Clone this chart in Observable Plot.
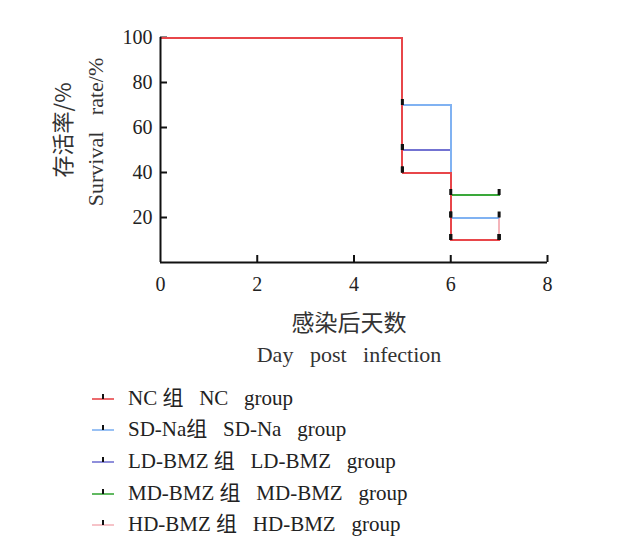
<!DOCTYPE html>
<html>
<head>
<meta charset="utf-8">
<script src="https://cdn.jsdelivr.net/npm/d3@7"></script>
<script src="https://cdn.jsdelivr.net/npm/@observablehq/plot@0.6"></script>
<style>
  html, body { margin: 0; padding: 0; background: #fff; }
  #wrap { width: 642px; }
  #legend { margin: 5px 0 0 92px; font-family: "Liberation Serif", "Noto Sans CJK SC", serif; font-size: 21px; color: #222; }
  .item { height: 31.6px; display: flex; align-items: center; white-space: pre; }
  .item svg { margin-right: 14px; }
</style>
</head>
<body>
<div id="wrap"></div>
<script>
// ---- data ----
const days = [0, 5, 6, 7];
const ncGroup   = [100, 40, 10, 10];
const sdNaGroup = [100, 70, 20, 20];
const ldBmzGroup = [100, 50, 10, 10];
const mdBmzGroup = [100, 50, 30, 30];
const hdBmzGroup = [100, 40, 20, 10];
const groupNames = ["HD-BMZ", "MD-BMZ", "LD-BMZ", "SD-Na", "NC"]; // draw order (NC on top)
const groupColors = {"NC": "#e8464a", "SD-Na": "#80b2f2", "LD-BMZ": "#7373d2", "MD-BMZ": "#3aa83a", "HD-BMZ": "#f4b4ba"};
const legendLabels = [
  ["NC", "NC 组\u2002 NC\u2002 group"],
  ["SD-Na", "SD-Na组\u2002 SD-Na\u2002 group"],
  ["LD-BMZ", "LD-BMZ 组\u2002 LD-BMZ\u2002 group"],
  ["MD-BMZ", "MD-BMZ 组\u2002 MD-BMZ\u2002 group"],
  ["HD-BMZ", "HD-BMZ 组\u2002 HD-BMZ\u2002 group"]
];
const xTicks = [0, 2, 4, 6, 8];
const yTicks = [20, 40, 60, 80, 100];

const seriesValues = {"NC": ncGroup, "SD-Na": sdNaGroup, "LD-BMZ": ldBmzGroup, "MD-BMZ": mdBmzGroup, "HD-BMZ": hdBmzGroup};
const rows = groupNames.flatMap(g => days.map((d, i) => ({group: g, day: d, rate: seriesValues[g][i]})));
const censor = rows.filter(r => r.day > 0);

const W = 642, H = 375, mt = 37, mb = 113, ml = 160, mr = 95;
const fw = W - ml - mr, fh = H - mt - mb;

const censorSymbol = { draw(ctx) { ctx.moveTo(0, -6); ctx.lineTo(0, 0); } };

const serif = "Liberation Serif, serif";
const cjk = "Noto Sans CJK SC, sans-serif";

const chart = Plot.plot({
  width: W, height: H,
  marginTop: mt, marginBottom: mb, marginLeft: ml, marginRight: mr,
  style: { fontFamily: serif, fontSize: "20px", color: "#222", background: "#fff" },
  x: { domain: [0, 8], label: null },
  y: { domain: [0, 100], label: null },
  marks: [
    Plot.axisX(xTicks, { tickSize: 0, tickPadding: 14, fontSize: 20, fill: "#222", label: null }),
    Plot.axisY(yTicks, { tickSize: 0, tickPadding: 8, fontSize: 20, fill: "#222", label: null }),
    Plot.tickX(xTicks.filter(d => d > 0), { x: d => d, insetTop: fh - 7, stroke: "#111", strokeWidth: 2 }),
    Plot.tickY(yTicks, { y: d => d, insetRight: fw - 7, stroke: "#111", strokeWidth: 2 }),
    ...groupNames.map(g => Plot.line(rows.filter(r => r.group === g), {
      x: "day", y: "rate", curve: "step-after", stroke: groupColors[g], strokeWidth: 2, shapeRendering: "crispEdges"
    })),
    Plot.dot(censor, { x: "day", y: "rate", symbol: censorSymbol, stroke: "#111", strokeWidth: 3, fill: "none", r: 3 }),
    Plot.ruleY([0], { x1: 0, x2: 8, stroke: "#111", strokeWidth: 2 }),
    Plot.ruleX([0], { y1: 0, y2: 100, stroke: "#111", strokeWidth: 2 }),
    Plot.text(["存活率/%"], { text: d => d, frameAnchor: "left", textAnchor: "middle", rotate: -90, dx: -97, dy: -20, fontFamily: cjk, fontSize: 22, fill: "#333" }),
    Plot.text(["Survival\u2002 rate/%"], { text: d => d, frameAnchor: "left", textAnchor: "middle", rotate: -90, dx: -65, dy: -18, fontFamily: serif, fontSize: 22, fill: "#333" }),
    Plot.text(["感染后天数"], { text: d => d, frameAnchor: "bottom", textAnchor: "middle", dx: -5, dy: 68, fontFamily: cjk, fontSize: 23, fill: "#333" }),
    Plot.text(["Day\u2002 post\u2002 infection"], { text: d => d, frameAnchor: "bottom", textAnchor: "middle", dx: -5, dy: 99, fontFamily: serif, fontSize: 22, fill: "#333" })
  ]
});
document.getElementById("wrap").appendChild(chart);

const legend = document.createElement("div");
legend.id = "legend";
for (const [g, label] of legendLabels) {
  const item = document.createElement("div");
  item.className = "item";
  const c = groupColors[g];
  item.innerHTML = `<svg width="22" height="12"><line x1="0" x2="22" y1="9" y2="9" stroke="${c}" stroke-width="1.6"/><line x1="11" x2="11" y1="4" y2="9" stroke="#111" stroke-width="2"/></svg><span>${label}</span>`;
  legend.appendChild(item);
}
document.getElementById("wrap").appendChild(legend);
</script>
</body>
</html>
